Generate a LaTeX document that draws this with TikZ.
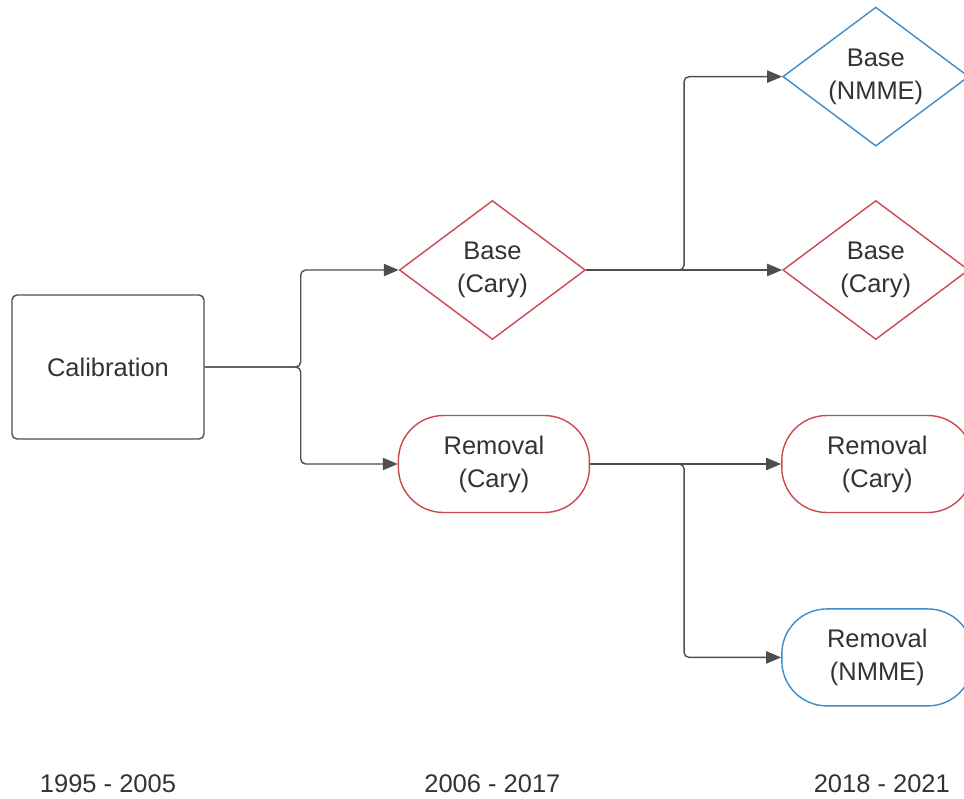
\documentclass[tikz,border=0pt]{standalone}
\usepackage{fontspec}
\setmainfont{Liberation Sans}
\usetikzlibrary{positioning,shapes,arrows.meta}

\definecolor{carycol}{RGB}{204,72,78}
\definecolor{nmmecol}{RGB}{62,140,200}
\definecolor{linegray}{RGB}{78,78,78}
\definecolor{textgray}{RGB}{51,51,51}

\begin{document}
\begin{tikzpicture}[
    font=\fontsize{14.5}{18.7}\selectfont,
    text=textgray,
    calibbox/.style={draw=linegray, line width=0.8pt, rectangle, rounded corners=0.1cm, minimum width=3.84cm, minimum height=2.88cm},
    basebox/.style={draw, line width=0.8pt, diamond, aspect=1.34, inner sep=0pt, align=center, minimum width=3.72cm, minimum height=2.78cm},
    removalbox/.style={draw, line width=0.8pt, rectangle, rounded corners=0.9cm, align=center, minimum width=3.82cm, minimum height=1.94cm},
    year/.style={inner sep=0pt},
    arrow/.style={-{Triangle[length=8.5pt,width=7pt]}, draw=linegray, line width=0.8pt, rounded corners=0.1cm}
]
    \useasboundingbox (0,0) rectangle (19.28,-15.96);

    % Blocks
    \node[calibbox] (calib) at (2.16,-7.34) {Calibration};
    \node[basebox, draw=carycol, right=3.88cm of calib, yshift=1.94cm] (basecary) {Base\\(Cary)};
    \node[removalbox, draw=carycol, right=3.86cm of calib, yshift=-1.94cm] (remcary) {Removal\\(Cary)};

    \node[basebox, draw=carycol, right=3.92cm of basecary] (basecary2) {Base\\(Cary)};
    \node[basebox, draw=nmmecol, above=1.06cm of basecary2] (basenmme) {Base\\(NMME)};
    \node[removalbox, draw=carycol, right=3.82cm of remcary] (remcary2) {Removal\\(Cary)};
    \node[removalbox, draw=nmmecol, below=1.9cm of remcary2] (remnmme) {Removal\\(NMME)};

    % Years
    \node[year] (y1) at (calib |- 0,-15.68) {1995 - 2005};
    \node[year] (y2) at (basecary |- y1) {2006 - 2017};
    \node[year, xshift=0.12cm] (y3) at (basecary2 |- y1) {2018 - 2021};

    % Split points
    \coordinate[right=1.92cm of calib.east] (split1);
    \coordinate[right=1.96cm of basecary.east] (split2);
    \coordinate[right=1.88cm of remcary.east] (split3);

    % Arrows
    \draw[arrow] (calib.east) -- (split1) |- (basecary.west);
    \draw[arrow] (calib.east) -- (split1) |- (remcary.west);
    \draw[arrow] (basecary.east) -- (split2) |- (basenmme.west);
    \draw[arrow] (basecary.east) -- (basecary2.west);
    \draw[arrow] (remcary.east) -- (remcary2.west);
    \draw[arrow] (remcary.east) -- (split3) |- (remnmme.west);
\end{tikzpicture}
\end{document}
